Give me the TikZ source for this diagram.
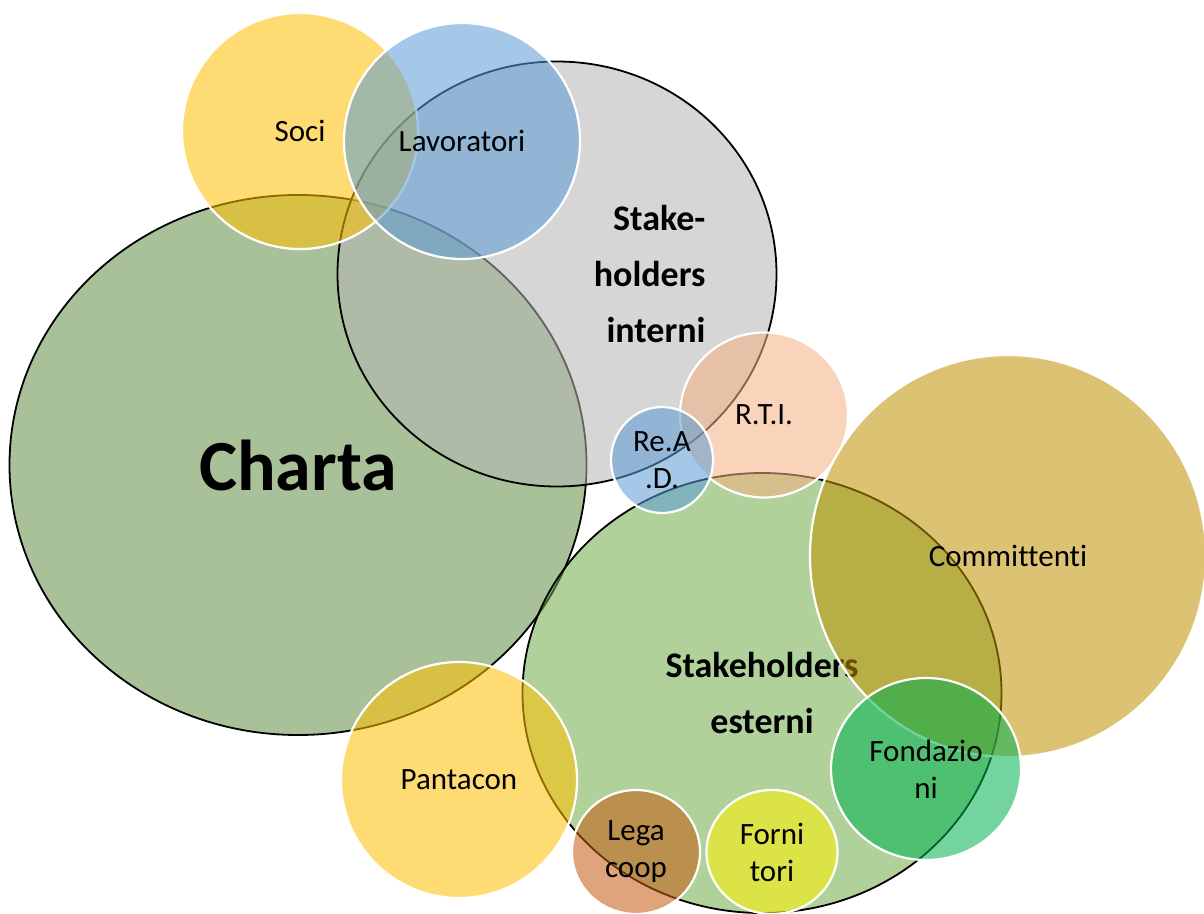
\documentclass[tikz,border=0pt]{standalone}
\usepackage{fontspec}
\setmainfont{Carlito}[Ligatures=NoCommon]
\usetikzlibrary{shapes.geometric}
\definecolor{chartagreen}{HTML}{628E44}
\definecolor{intgray}{HTML}{B4B4B4}
\definecolor{extgreen}{HTML}{70AD47}
\definecolor{socigold}{HTML}{FFC000}
\definecolor{lavblue}{HTML}{5B9BD5}
\definecolor{rtipeach}{HTML}{F4B183}
\definecolor{commtan}{HTML}{BF9000}
\definecolor{fondgreen}{HTML}{00B050}
\definecolor{legabrown}{HTML}{C55A11}
\definecolor{fornlime}{HTML}{FFF200}
\tikzset{
  bub/.style={ellipse, inner sep=0pt, align=center, draw=white, line width=2.2pt,
    fill opacity=.55, text opacity=1, font=\fontsize{31}{37}\selectfont},
  bubk/.style={bub, draw=black, line width=1.8pt},
  stlab/.style={font=\bfseries\fontsize{36}{56}\selectfont},
}

\begin{document}
\begin{tikzpicture}[x=1pt, y=-1pt]
  \useasboundingbox (0,0) rectangle (1204,913);
  % the three big bubbles
  \node[bubk, fill=chartagreen, minimum width=577pt, minimum height=540pt,
    font=\bfseries\fontsize{72}{80}\selectfont] (charta) at (298,465) {Charta};
  \node[bubk, fill=intgray, minimum width=439pt, minimum height=425pt] (interni) at (557,274) {};
  \node[stlab, align=right, anchor=east] (intlab) at (709,274) {Stake-\\holders\\interni};
  \node[bubk, fill=extgreen, minimum width=479pt, minimum height=440pt, stlab, align=center]
    (esterni) at (762,693) {Stakeholders\\esterni};
  % internal side
  \node[bub, fill=socigold, minimum size=236pt] (soci) at (300,131) {Soci};
  \node[bub, fill=lavblue, minimum size=236pt] (lavor) at (462,141) {Lavoratori};
  \node[bub, fill=rtipeach, minimum width=168pt, minimum height=165pt] (rti) at (764,415) {R.T.I.};
  \node[bub, fill=lavblue, minimum width=102pt, minimum height=106pt] (read) at (662,460) {Re.A\\.D.};
  % external side
  \node[bub, fill=commtan, minimum width=396pt, minimum height=402pt] (commit) at (1008,556) {Committenti};
  \node[bub, fill=fondgreen, minimum width=190pt, minimum height=182pt] (fond) at (926,769) {Fondazio\\ni};
  \node[bub, fill=socigold, minimum size=236pt] (pant) at (459,780) {Pantacon};
  \node[bub, fill=legabrown, minimum width=128pt, minimum height=124pt] (lega) at (636,852) {Lega\\coop};
  \node[bub, fill=fornlime, minimum width=131pt, minimum height=124pt] (forn) at (772,852) {Forni\\tori};
\end{tikzpicture}
\end{document}
